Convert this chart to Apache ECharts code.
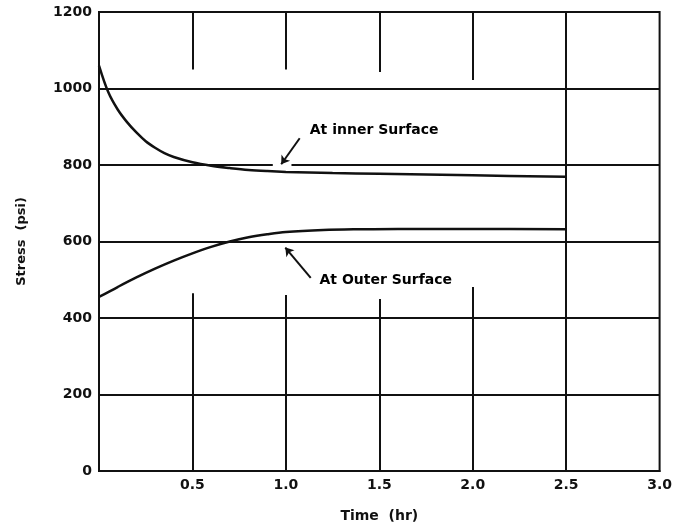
<!DOCTYPE html>
<html>
<head>
<meta charset="utf-8">
<script src="https://cdn.jsdelivr.net/npm/echarts@6/dist/echarts.min.js"></script>
<style>
  html, body { margin: 0; padding: 0; background: #fff; }
  #chart { width: 675px; height: 531px; }
</style>
</head>
<body>
<div id="chart"></div>
<script>
// values (time in hr, stress in psi)
const innerSurface = [
  [0, 1060], [0.05, 990], [0.1, 945], [0.15, 912], [0.2, 885], [0.25, 862],
  [0.3, 845], [0.35, 831], [0.4, 821], [0.5, 807], [0.6, 798], [0.7, 792],
  [0.8, 787], [0.9, 784], [1.0, 782], [1.25, 779], [1.5, 777], [2.0, 773], [2.5, 769]
]
const outerSurface = [
  [0, 455], [0.1, 481], [0.2, 506], [0.3, 529], [0.4, 550], [0.5, 569],
  [0.6, 586], [0.7, 600], [0.8, 611], [0.9, 619], [1.0, 625], [1.2, 630],
  [1.4, 632], [1.6, 633], [2.0, 633], [2.5, 632]
]
// partial vertical grid lines at 0.5 .. 2.0
const stubTimes = [0.5, 1.0, 1.5, 2.0]
const topStubEnds = [1050, 1050, 1043, 1022]
const bottomStubTops = [465, 460, 450, 481]
const fullLineTime = 2.5

const labelInner = 'At inner Surface'
const labelOuter = 'At Outer Surface'

const ink = '#111'
const font = 'DejaVu Sans'

const stubs = []
stubTimes.forEach((t, i) => {
  stubs.push({ coords: [[t, 1200], [t, topStubEnds[i]]] })
  stubs.push({ coords: [[t, 0], [t, bottomStubTops[i]]] })
})
stubs.push({ coords: [[fullLineTime, 0], [fullLineTime, 1200]] })

const chart = echarts.init(document.getElementById('chart'))
chart.setOption({
  animation: false,
  backgroundColor: '#fff',
  grid: {
    left: 99, right: 12, top: 12, bottom: 60,
    show: true, borderColor: ink, borderWidth: 2
  },
  xAxis: {
    type: 'value', min: 0, max: 3, interval: 0.5,
    name: 'Time  (hr)', nameLocation: 'middle', nameGap: 38,
    nameTextStyle: { fontFamily: font, fontWeight: 'bold', fontSize: 14, color: ink },
    axisLine: { show: true, lineStyle: { color: ink, width: 2 } },
    axisTick: { show: false },
    splitLine: { show: false },
    axisLabel: {
      margin: 7, color: ink, fontFamily: font, fontWeight: 'bold', fontSize: 14,
      formatter: (v) => (v === 0 ? '' : v.toFixed(1))
    }
  },
  yAxis: {
    type: 'value', min: 0, max: 1200, interval: 200,
    name: 'Stress  (psi)', nameLocation: 'middle', nameGap: 71,
    nameTextStyle: { fontFamily: font, fontWeight: 'bold', fontSize: 13, color: ink },
    axisLine: { show: true, lineStyle: { color: ink, width: 2 } },
    axisTick: { show: false },
    splitLine: { show: true, lineStyle: { color: ink, width: 2 } },
    axisLabel: {
      margin: 7, color: ink, fontFamily: font, fontWeight: 'bold', fontSize: 14,
      formatter: (v) => String(v)
    }
  },
  series: [
    {
      type: 'lines', coordinateSystem: 'cartesian2d', silent: true,
      lineStyle: { color: ink, width: 2, opacity: 1 },
      data: stubs
    },
    {
      // small break in the 800 line where the arrow lands
      type: 'lines', coordinateSystem: 'cartesian2d', silent: true,
      lineStyle: { color: '#fff', width: 4, opacity: 1 },
      data: [{ coords: [[0.93, 800], [1.03, 800]] }]
    },
    {
      name: labelInner, type: 'line', data: innerSurface, smooth: 0.35,
      showSymbol: false, lineStyle: { color: ink, width: 2.5 }
    },
    {
      name: labelOuter, type: 'line', data: outerSurface, smooth: 0.35,
      showSymbol: false, lineStyle: { color: ink, width: 2.5 }
    },
    {
      type: 'lines', coordinateSystem: 'cartesian2d', silent: true,
      symbol: ['none', 'arrow'], symbolSize: 8,
      lineStyle: { color: ink, width: 2, opacity: 1 },
      data: [
        { coords: [[1.074, 870], [0.975, 802]] },
        { coords: [[1.133, 505], [0.997, 584]] }
      ]
    },
    {
      type: 'scatter', symbolSize: 0, silent: true,
      itemStyle: { opacity: 1 },
      label: {
        show: true, position: 'right', distance: 0,
        color: '#000', fontFamily: font, fontWeight: 'bold', fontSize: 14,
        formatter: (p) => p.data[2]
      },
      data: [
        [1.128, 891, labelInner],
        [1.18, 499, labelOuter]
      ]
    }
  ]
})
</script>
</body>
</html>
